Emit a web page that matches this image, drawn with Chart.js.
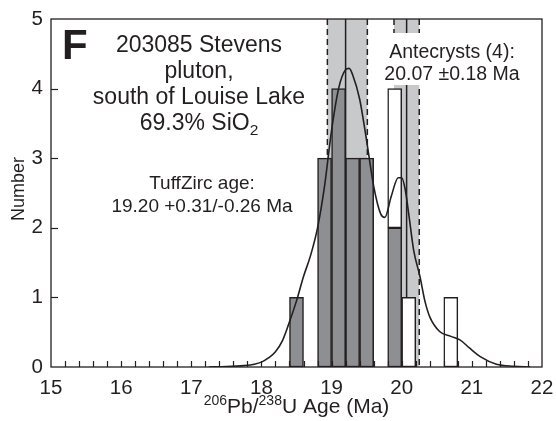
<!DOCTYPE html>
<html>
<head>
<meta charset="utf-8">
<script src="https://cdn.jsdelivr.net/npm/chart.js@4.4.0/dist/chart.umd.min.js"></script>
<style>
  body { margin: 0; background: #fff; }
</style>
</head>
<body>
<canvas id="ageChart" width="556" height="421"></canvas>
<script>
// histogram bins, 0.2 Ma wide (bin centres)
const grayBins = [18.5, 18.9, 19.1, 19.3, 19.5, 19.9];
const grayCounts = [1, 3, 4, 3, 3, 2];

// antecrysts (white bars), stacked on the gray ones where they share a bin
const whiteBins = [19.9, 20.1, 20.7];
const whiteBottom = [2, 0, 0];
const whiteTop = [4, 1, 1];

// probability density curve
const curveAge = [17.25, 17.5, 17.75, 17.9, 18.0, 18.1, 18.2, 18.3, 18.4, 18.5, 18.6, 18.7, 18.8, 18.9, 19.0,
  19.1, 19.2, 19.25, 19.3, 19.4, 19.5, 19.6, 19.7, 19.76, 19.85, 19.95, 20.0, 20.05, 20.1, 20.17, 20.26,
  20.33, 20.4, 20.54, 20.7, 20.83, 20.97, 21.12, 21.35, 21.6, 21.83];
const curveValue = [0, 0.005, 0.02, 0.04, 0.07, 0.13, 0.22, 0.38, 0.65, 0.95, 1.3, 1.6, 2.0, 2.6, 3.4,
  4.0, 4.27, 4.29, 4.2, 3.85, 3.25, 2.6, 2.2, 2.15, 2.45, 2.72, 2.72, 2.55, 2.2, 1.68, 1.3,
  0.95, 0.72, 0.51, 0.44, 0.39, 0.27, 0.15, 0.04, 0.01, 0];

// TuffZirc age and antecryst mean with their errors
const bandCentre = [19.20, 20.07];
const bandLow = [18.94, 19.89];
const bandHigh = [19.51, 20.25];

const BLACK = '#231f20';
const FONT = "'Liberation Sans', Arial, sans-serif";

function centredLines(ctx, lines, cx, baselines, size) {
  ctx.font = size + 'px ' + FONT;
  ctx.textAlign = 'center';
  ctx.textBaseline = 'alphabetic';
  lines.forEach((t, i) => ctx.fillText(t, cx, baselines[i]));
}

// draws a row of [text, size, yShift] parts centred on cx
function richLine(ctx, parts, cx, baseline) {
  ctx.textAlign = 'left';
  ctx.textBaseline = 'alphabetic';
  let total = 0;
  parts.forEach(p => { ctx.font = p[1] + 'px ' + FONT; total += ctx.measureText(p[0]).width; });
  let x = cx - total / 2;
  parts.forEach(p => {
    ctx.font = p[1] + 'px ' + FONT;
    ctx.fillText(p[0], x, baseline + p[2]);
    x += ctx.measureText(p[0]).width;
  });
}

const decorations = {
  id: 'decorations',
  beforeDatasetsDraw(chart) {
    const { ctx, chartArea: a, scales: { x } } = chart;
    ctx.save();
    bandCentre.forEach((c, i) => {
      const x0 = x.getPixelForValue(bandLow[i]);
      const x1 = x.getPixelForValue(bandHigh[i]);
      ctx.fillStyle = '#c8c9cb';
      ctx.fillRect(x0, a.top, x1 - x0, a.bottom - a.top);
      ctx.strokeStyle = BLACK;
      ctx.lineWidth = 1.5;
      ctx.setLineDash([6, 4]);
      [x0, x1].forEach(px => {
        ctx.beginPath();
        ctx.moveTo(px, a.top);
        ctx.lineTo(px, a.bottom);
        ctx.stroke();
      });
      ctx.setLineDash([]);
      const pc = x.getPixelForValue(c);
      ctx.beginPath();
      ctx.moveTo(pc, a.top);
      ctx.lineTo(pc, a.bottom);
      ctx.stroke();
    });
    // white patch behind the antecryst label
    ctx.font = '19.5px ' + FONT;
    const w = ctx.measureText('20.07 ±0.18 Ma').width + 6;
    ctx.fillStyle = '#fff';
    ctx.fillRect(452 - w / 2, 33, w, 52);
    ctx.restore();
  },
  afterDraw(chart) {
    const { ctx, chartArea: a, scales: { x, y } } = chart;
    ctx.save();
    ctx.strokeStyle = BLACK;
    ctx.fillStyle = BLACK;
    ctx.lineWidth = 1.3;
    ctx.strokeRect(a.left, a.top, a.right - a.left, a.bottom - a.top);

    // inward ticks
    ctx.lineWidth = 1.2;
    for (let i = 1; i < 35; i++) {
      const px = Math.round(x.getPixelForValue(15 + i * 0.2)) + 0.5;
      ctx.beginPath();
      ctx.moveTo(px, a.bottom);
      ctx.lineTo(px, a.bottom - 6);
      ctx.stroke();
    }
    for (let v = 1; v < 5; v++) {
      const py = Math.round(y.getPixelForValue(v)) + 0.5;
      ctx.beginPath();
      ctx.moveTo(a.left, py);
      ctx.lineTo(a.left + 7, py);
      ctx.stroke();
    }

    // panel letter and labels
    ctx.font = 'bold 42px ' + FONT;
    ctx.textAlign = 'left';
    ctx.fillText('F', 62, 59);

    centredLines(ctx, ['203085 Stevens', 'pluton,', 'south of Louise Lake'], 199, [52, 78, 104], 23);
    richLine(ctx, [['69.3% SiO', 23, 0], ['2', 15.5, 5]], 199, 130);

    centredLines(ctx, ['TuffZirc age:', '19.20 +0.31/-0.26 Ma'], 202, [189, 212], 19);
    centredLines(ctx, ['Antecrysts (4):', '20.07 ±0.18 Ma'], 452, [58, 80], 19.5);

    // axis titles
    richLine(ctx, [['206', 14, -8], ['Pb/', 21, 0], ['238', 14, -8], ['U Age (Ma)', 21, 0]],
      (a.left + a.right) / 2, 413);

    ctx.translate(19, (a.top + a.bottom) / 2 - 4);
    ctx.rotate(-Math.PI / 2);
    ctx.font = '18px ' + FONT;
    ctx.textAlign = 'center';
    ctx.textBaseline = 'middle';
    ctx.fillText('Number', 0, 0);
    ctx.restore();
  }
};

new Chart(document.getElementById('ageChart'), {
  type: 'bar',
  data: {
    datasets: [
      {
        type: 'line',
        data: curveAge.map((a, i) => ({ x: a, y: curveValue[i] })),
        borderColor: BLACK,
        borderWidth: 1.6,
        pointRadius: 0,
        cubicInterpolationMode: 'monotone',
        fill: false,
        order: 0
      },
      {
        data: grayBins.map((b, i) => ({ x: b, y: grayCounts[i] })),
        backgroundColor: '#8e8f92',
        borderColor: BLACK,
        borderWidth: 1.5,
        borderSkipped: false,
        grouped: false,
        barPercentage: 1,
        categoryPercentage: 1,
        order: 1
      },
      {
        data: whiteBins.map((b, i) => ({ x: b, y: [whiteBottom[i], whiteTop[i]] })),
        backgroundColor: '#ffffff',
        borderColor: BLACK,
        borderWidth: 1.5,
        borderSkipped: false,
        grouped: false,
        barPercentage: 1,
        categoryPercentage: 1,
        order: 2
      }
    ]
  },
  options: {
    responsive: false,
    animation: false,
    layout: { padding: { top: 19, right: 14, left: 0, bottom: 0 } },
    plugins: {
      legend: { display: false },
      tooltip: { enabled: false }
    },
    scales: {
      x: {
        type: 'linear',
        min: 15,
        max: 22,
        offset: false,
        grid: { display: false },
        border: { display: false },
        ticks: { stepSize: 1, color: BLACK, font: { family: FONT, size: 20.5 }, padding: 1, maxRotation: 0 },
        afterFit: s => { s.height = 54; }
      },
      y: {
        min: 0,
        max: 5,
        grid: { display: false },
        border: { display: false },
        ticks: { stepSize: 1, color: BLACK, font: { family: FONT, size: 20.5 }, padding: 0 },
        afterFit: s => { s.width = 51; }
      }
    }
  },
  plugins: [decorations]
});
</script>
</body>
</html>
